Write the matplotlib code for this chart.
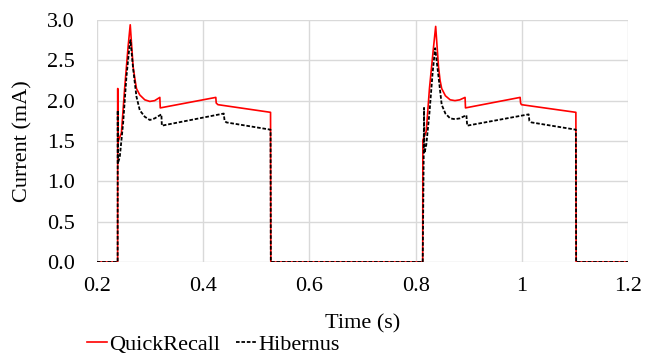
import numpy as np
import matplotlib.pyplot as plt

plt.rcParams['font.family'] = ['Liberation Serif', 'DejaVu Serif']

# QuickRecall trace (red)
qr_t = [0.20, 0.2393, 0.2395, 0.2397, 0.2405, 0.2464, 0.2527, 0.259, 0.263,
        0.2684, 0.272, 0.2747, 0.281, 0.2904, 0.2998, 0.309, 0.3187, 0.3195,
        0.424, 0.4248, 0.428, 0.527, 0.5275,
        0.8128, 0.8133, 0.8136, 0.820, 0.826, 0.833, 0.8377,
        0.843, 0.846, 0.849, 0.856, 0.865, 0.874, 0.883, 0.893, 0.8938,
        0.9966, 0.9975, 0.999, 1.1015, 1.102, 1.20]
qr_i = [0.0, 0.0, 2.15, 1.47, 1.50, 1.60, 2.17, 2.67, 2.94,
        2.42, 2.26, 2.15, 2.07, 2.01, 1.99, 2.00, 2.04, 1.91,
        2.04, 1.97, 1.95, 1.855, 0.0,
        0.0, 0.0, 1.51, 1.62, 2.15, 2.62, 2.92,
        2.42, 2.25, 2.15, 2.06, 2.01, 2.00, 2.01, 2.04, 1.91,
        2.04, 1.97, 1.95, 1.855, 0.0, 0.0]

# Hibernus trace (black dashed)
hb_t = [0.20, 0.2393, 0.2395, 0.2397, 0.2405, 0.2433, 0.2496, 0.2559, 0.262,
        0.2634, 0.2684, 0.2747, 0.281, 0.2904, 0.2998, 0.309, 0.3216, 0.3225,
        0.439, 0.4405, 0.444, 0.527, 0.5275,
        0.8128, 0.8133, 0.815, 0.8158, 0.8165, 0.820, 0.826, 0.832, 0.8367,
        0.843, 0.849, 0.856, 0.865, 0.874, 0.883, 0.8955, 0.897,
        1.0126, 1.014, 1.018, 1.1015, 1.102, 1.20]
hb_i = [0.0, 0.0, 1.88, 1.22, 1.24, 1.30, 1.72, 2.30, 2.70,
        2.75, 2.40, 2.05, 1.88, 1.80, 1.76, 1.78, 1.83, 1.69,
        1.84, 1.75, 1.73, 1.64, 0.0,
        0.0, 0.0, 1.20, 1.91, 1.35, 1.45, 1.85, 2.35, 2.65,
        2.30, 1.95, 1.84, 1.78, 1.77, 1.78, 1.82, 1.69,
        1.83, 1.75, 1.73, 1.64, 0.0, 0.0]

fig = plt.figure(figsize=(6.45, 3.56), dpi=100)
ax = fig.add_axes([0.150, 0.264, 0.824, 0.680])

ax.plot(qr_t, qr_i, color='#ff0000', lw=1.2, label='QuickRecall', zorder=3)
ax.plot(hb_t, hb_i, color='black', lw=1.3, linestyle=(0, (2, 1)),
        label='Hibernus', zorder=4)

ax.set_xlim(0.2, 1.2)
ax.set_ylim(0, 3.0)
ax.set_xticks([0.2, 0.4, 0.6, 0.8, 1.0, 1.2])
ax.set_xticklabels(['0.2', '0.4', '0.6', '0.8', '1', '1.2'])
ax.set_yticks(np.arange(0, 3.01, 0.5))
ax.set_yticklabels(['%.1f' % v for v in np.arange(0, 3.01, 0.5)])
ax.grid(True, color='#d9d9d9', lw=1.0)
ax.set_axisbelow(True)
for s in ax.spines.values():
    s.set_visible(False)
ax.tick_params(length=0, labelsize=16)
ax.tick_params(axis='x', pad=11)
ax.tick_params(axis='y', pad=16)
ax.set_xlabel('Time (s)', fontsize=16, labelpad=13)
ax.set_ylabel('Current (mA)', fontsize=16, labelpad=10)

lg = fig.legend(loc='center left', bbox_to_anchor=(0.118, 0.031), ncol=2,
                frameon=False, fontsize=16, handlelength=0.9, borderpad=0,
                handletextpad=0.1, columnspacing=0.7)

plt.savefig('out.png', dpi=100)
